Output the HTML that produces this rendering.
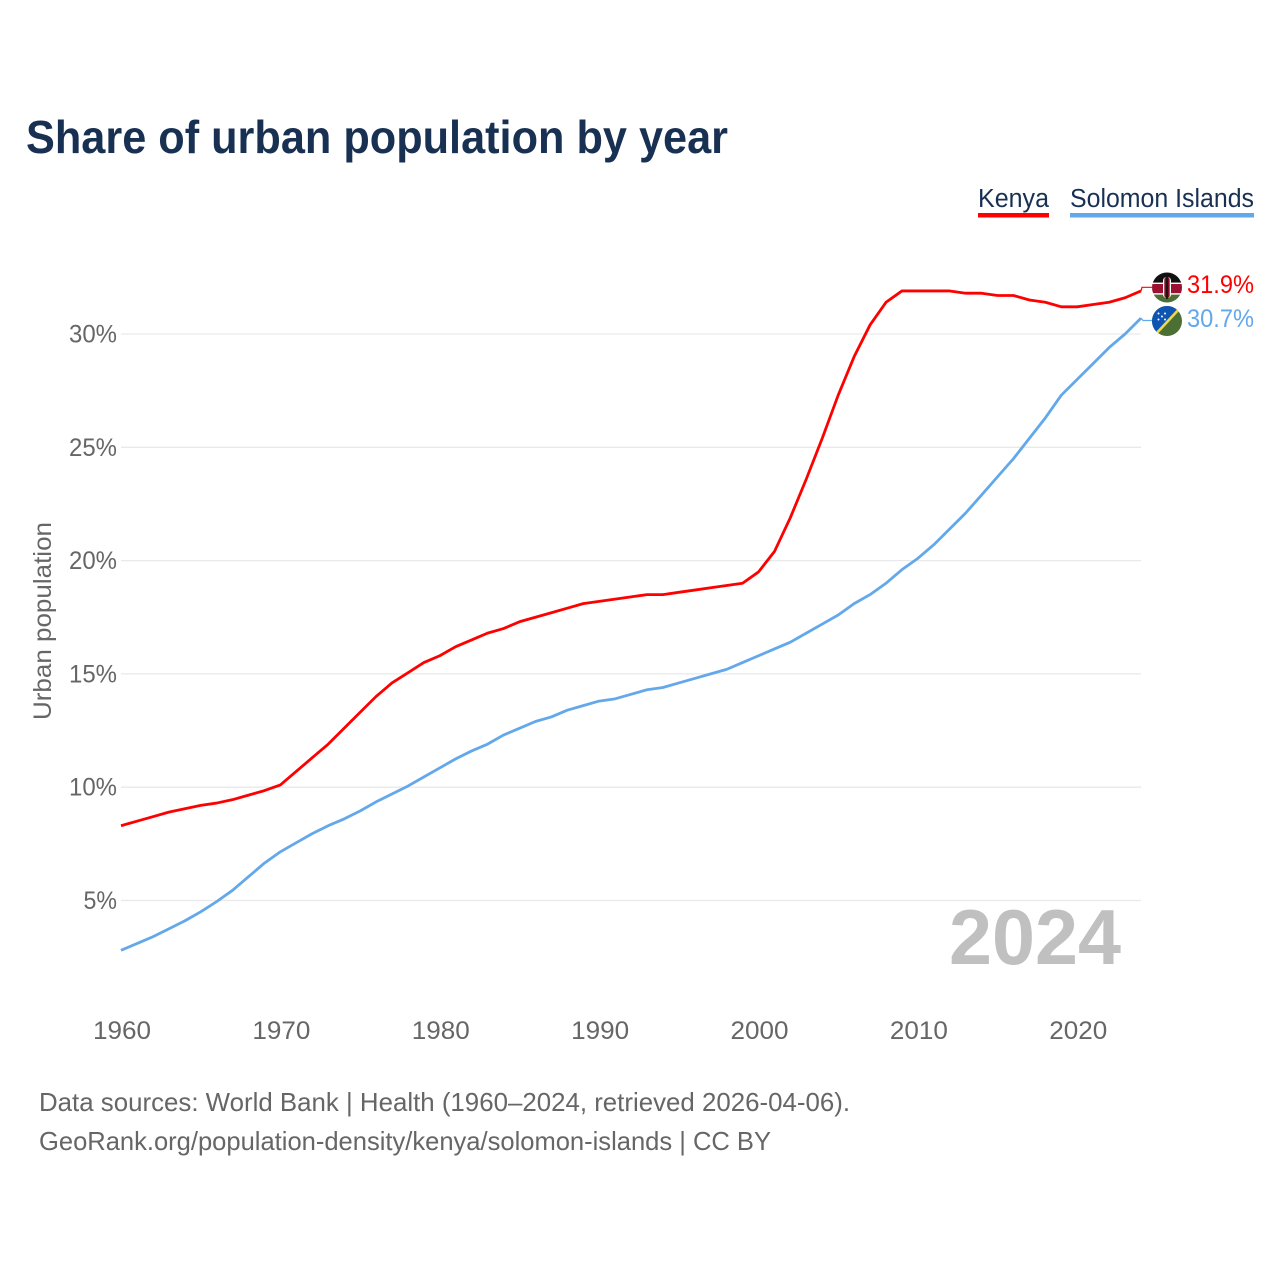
<!DOCTYPE html>
<html lang="en">
<head>
<meta charset="utf-8">
<title>Share of urban population by year</title>
<style>
html,body{margin:0;padding:0;background:#fff;width:1280px;height:1280px;overflow:hidden}
svg{display:block}
text{font-family:"Liberation Sans",sans-serif}
</style>
</head>
<body>
<svg id="chart" xmlns="http://www.w3.org/2000/svg" width="1280" height="1280" viewBox="0 0 1280 1280">
  <defs>
    <clipPath id="flag-clip-ke"><circle cx="1167" cy="287.5" r="15"/></clipPath>
    <clipPath id="flag-clip-sb"><circle cx="1167" cy="321" r="15"/></clipPath>
  </defs>
  <rect width="1280" height="1280" fill="#fff"/>
  <text x="26" y="153" font-size="46" font-weight="700" fill="#183153" textLength="702" lengthAdjust="spacingAndGlyphs">Share of urban population by year</text>

  <g>
    <g>
      <text x="978" y="207" font-size="25.5" fill="#183153" textLength="71" lengthAdjust="spacingAndGlyphs">Kenya</text>
      <rect x="978" y="213" width="71" height="4.5" fill="#ff0000"/>
    </g>
    <g>
      <text x="1070" y="207" font-size="25.5" fill="#183153" textLength="184" lengthAdjust="spacingAndGlyphs">Solomon Islands</text>
      <rect x="1070" y="213" width="184" height="4.5" fill="#62a8ea"/>
    </g>
  </g>

  <g id="grid"></g>
  <g id="yticks"></g>
  <g id="xticks"></g>
  <text transform="translate(51,621) rotate(-90)" text-anchor="middle" font-size="25" fill="#666666" textLength="198" lengthAdjust="spacingAndGlyphs">Urban population</text>

  <text x="949" y="964" font-size="78" font-weight="700" fill="#c0c0c0" textLength="172" lengthAdjust="spacingAndGlyphs">2024</text>

  <polyline id="line-solomon" fill="none" stroke="#62a8ea" stroke-width="2.8" stroke-linejoin="round"/>
  <polyline id="line-kenya" fill="none" stroke="#ff0000" stroke-width="2.8" stroke-linejoin="round"/>

  <polyline id="leader-kenya" fill="none" stroke="#ff0000" stroke-width="1.2"/>
  <polyline id="leader-solomon" fill="none" stroke="#62a8ea" stroke-width="1.2"/>

  <g clip-path="url(#flag-clip-ke)">
    <rect x="1152" y="272" width="30" height="10.7" fill="#111111"/>
    <rect x="1152" y="282.7" width="30" height="1.3" fill="#ffffff"/>
    <rect x="1152" y="284" width="30" height="9.3" fill="#9c1030"/>
    <rect x="1152" y="293.3" width="30" height="1.3" fill="#ffffff"/>
    <rect x="1152" y="294.6" width="30" height="8.4" fill="#4c6f33"/>
    <rect x="1163" y="277" width="8" height="21" rx="3.5" fill="#ffffff"/>
    <rect x="1164.3" y="277" width="5.4" height="21" rx="2.5" fill="#7f0f25"/>
    <rect x="1166.2" y="276" width="1.6" height="23" fill="#111111"/>
  </g>
  <g clip-path="url(#flag-clip-sb)">
    <rect x="1152" y="306" width="30" height="30" fill="#4c6f33"/>
    <polygon points="1152,306 1182,306 1153,336 1152,336" fill="#0f55b3"/>
    <line x1="1154" y1="336" x2="1181" y2="307" stroke="#f2d64b" stroke-width="2.6"/>
    <g fill="#ffffff">
      <circle cx="1158.5" cy="313.5" r="1"/><circle cx="1165" cy="313.5" r="1"/>
      <circle cx="1162" cy="316.5" r="1"/><circle cx="1158.5" cy="319.5" r="1"/>
      <circle cx="1165" cy="319.5" r="1"/>
    </g>
  </g>

  <text x="1187" y="293" font-size="25" fill="#ff0000" textLength="67" lengthAdjust="spacingAndGlyphs">31.9%</text>
  <text x="1187" y="327" font-size="25" fill="#62a8ea" textLength="67" lengthAdjust="spacingAndGlyphs">30.7%</text>

  <text x="39" y="1111" font-size="26" fill="#666666" textLength="811" lengthAdjust="spacingAndGlyphs">Data sources: World Bank | Health (1960–2024, retrieved 2026-04-06).</text>
  <a><text x="39" y="1150" font-size="26" fill="#666666" textLength="732" lengthAdjust="spacingAndGlyphs">GeoRank.org/population-density/kenya/solomon-islands | CC BY</text></a>
</svg>
<script>
const startYear = 1960;
const kenyaValues = [8.3,8.5,8.7,8.9,9.05,9.2,9.3,9.45,9.65,9.85,10.1,10.7,11.3,11.9,12.6,13.3,14.0,14.6,15.05,15.5,15.8,16.2,16.5,16.8,17.0,17.3,17.5,17.7,17.9,18.1,18.2,18.3,18.4,18.5,18.5,18.6,18.7,18.8,18.9,19.0,19.5,20.4,21.9,23.6,25.4,27.3,29.0,30.4,31.4,31.9,31.9,31.9,31.9,31.8,31.8,31.7,31.7,31.5,31.4,31.2,31.2,31.3,31.4,31.6,31.9];
const solomonValues = [2.8,3.1,3.4,3.75,4.1,4.5,4.95,5.45,6.05,6.65,7.15,7.55,7.95,8.3,8.6,8.95,9.35,9.7,10.05,10.45,10.85,11.25,11.6,11.9,12.3,12.6,12.9,13.1,13.4,13.6,13.8,13.9,14.1,14.3,14.4,14.6,14.8,15.0,15.2,15.5,15.8,16.1,16.4,16.8,17.2,17.6,18.1,18.5,19.0,19.6,20.1,20.7,21.4,22.1,22.9,23.7,24.5,25.4,26.3,27.3,28.0,28.7,29.4,30.0,30.7];
const yTickValues = [5,10,15,20,25,30];
const xTickYears = [1960,1970,1980,1990,2000,2010,2020];

const NS = 'http://www.w3.org/2000/svg';
function xScale(year){ return 121 + (year - 1960) * (1141 - 121) / 64; }
function yScale(v){ return 334 + (30 - v) * (900.5 - 334) / 25; }
function pointsOf(values){
  return values.map(function(v,i){ return xScale(startYear + i).toFixed(2) + ',' + yScale(v).toFixed(2); }).join(' ');
}

document.getElementById('line-kenya').setAttribute('points', pointsOf(kenyaValues));
document.getElementById('line-solomon').setAttribute('points', pointsOf(solomonValues));

const lastYear = startYear + kenyaValues.length - 1;
const endX = xScale(lastYear);
const kenyaEndY = yScale(kenyaValues[kenyaValues.length - 1]);
const solomonEndY = yScale(solomonValues[solomonValues.length - 1]);
document.getElementById('leader-kenya').setAttribute('points', endX + ',' + kenyaEndY + ' ' + (endX + 1) + ',287.3 1152,287.3');
document.getElementById('leader-solomon').setAttribute('points', endX + ',' + solomonEndY + ' ' + (endX + 2) + ',320.5 1152,320.5');

const gridGroup = document.getElementById('grid');
const yTickGroup = document.getElementById('yticks');
yTickValues.forEach(function(v){
  const line = document.createElementNS(NS, 'line');
  
  
  line.setAttribute('x1', 121);
  line.setAttribute('x2', 1141);
  line.setAttribute('y1', yScale(v));
  line.setAttribute('y2', yScale(v));
  line.setAttribute('stroke', '#e9e9e9');
  line.setAttribute('stroke-width', '1.3');
  gridGroup.appendChild(line);

  const label = document.createElementNS(NS, 'text');
  
  
  const str = v + '%';
  const width = (str.length - 1) * 14.5 + 19;
  label.setAttribute('x', 117 - width);
  label.setAttribute('y', yScale(v) + 8.5);
  label.setAttribute('font-size', '25');
  label.setAttribute('fill', '#666666');
  label.setAttribute('textLength', width);
  label.setAttribute('lengthAdjust', 'spacingAndGlyphs');
  label.textContent = str;
  yTickGroup.appendChild(label);
});

const xTickGroup = document.getElementById('xticks');
xTickYears.forEach(function(year){
  const label = document.createElementNS(NS, 'text');
  
  
  label.setAttribute('x', xScale(year) - 28);
  label.setAttribute('y', 1039);
  label.setAttribute('font-size', '25');
  label.setAttribute('fill', '#666666');
  label.setAttribute('textLength', 58);
  label.setAttribute('lengthAdjust', 'spacingAndGlyphs');
  label.textContent = String(year);
  xTickGroup.appendChild(label);
});
</script>
</body>
</html>
